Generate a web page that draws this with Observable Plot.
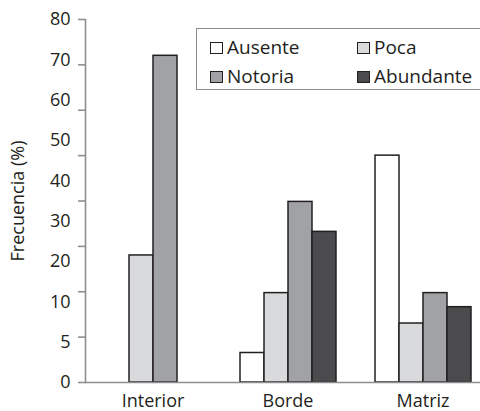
<!DOCTYPE html>
<html>
<head>
<meta charset="utf-8">
<script src="https://cdn.jsdelivr.net/npm/d3@7"></script>
<script src="https://cdn.jsdelivr.net/npm/@observablehq/plot@0.6"></script>
<style>
  html, body { margin: 0; padding: 0; background: #fff; }
  #wrap { position: relative; width: 480px; height: 411px; overflow: hidden; font-family: "Open Sans", sans-serif; color: #231f20; }
  #legend { position: absolute; left: 196px; top: 28px; width: 330px; height: 62px; box-sizing: border-box;
    border: 1.5px solid #8e8e90; background: #fff; }
  .item { position: absolute; display: flex; align-items: center; font-size: 19px; line-height: 1; }
  .sw { width: 11px; height: 10px; border: 1.5px solid #231f20; margin-right: 4px; }
</style>
</head>
<body>
<div id="wrap"><div id="chart"></div><div id="legend"></div></div>
<script>
const categories = ["Interior", "Borde", "Matriz"];
const levels = ["Ausente", "Poca", "Notoria", "Abundante"];
const colors = ["#ffffff", "#d9dadc", "#a1a2a6", "#4b4b4d"];
// frecuencia (%) por nivel, en orden de categories
const ausente   = [0, 6.5, 50];
const poca      = [28, 19.7, 13];
const notoria   = [72, 39.8, 19.7];
const abundante = [0, 33.2, 16.6];
const yTicks = [0, 10, 20, 30, 40, 50, 60, 70, 80];
const yLabels = ["0", "5", "10", "20", "30", "40", "50", "60", "70", "80"];

const series = [ausente, poca, notoria, abundante];
const data = [];
categories.forEach((c, ci) => levels.forEach((l, li) => data.push({category: c, level: l, value: series[li][ci]})));

const yMax = yTicks[yTicks.length - 1];
const labelPos = yLabels.map((_, i) => i * yMax / (yLabels.length - 1));
const labelMap = new Map(labelPos.map((p, i) => [p, yLabels[i]]));

const chart = Plot.plot({
  width: 480,
  height: 411,
  marginTop: 19,
  marginBottom: 29,
  marginLeft: 84,
  marginRight: -10,
  style: {fontFamily: "'Open Sans', sans-serif", fontSize: "18px", color: "#231f20", background: "#fff"},
  fx: {domain: categories, padding: 0, label: null, axis: null},
  x: {domain: levels, paddingInner: 0, paddingOuter: 0.765, axis: null},
  y: {domain: [0, yMax]},
  color: {domain: levels, range: colors},
  marks: [
    Plot.barY(data.filter(d => d.value > 0), {fx: "category", x: "level", y: "value", fill: "level", stroke: "#231f20", strokeWidth: 1.5}),
    Plot.ruleY([0], {stroke: "#8e8e90", strokeWidth: 1.6}),
    Plot.frame({anchor: "left", facet: "super", stroke: "#8e8e90", strokeWidth: 1.6}),
    Plot.axisY(yTicks, {tickSize: 7, tickFormat: () => "", stroke: "#8e8e90", strokeWidth: 1.6, label: null}),
    Plot.axisY(labelPos, {tickSize: 0, tickPadding: 15, tickFormat: d => labelMap.get(d), fill: "#231f20",
      label: "Frecuencia (%)", labelAnchor: "center", labelArrow: "none", labelOffset: 74}),
    Plot.axisFx({anchor: "bottom", tickSize: 0, tickPadding: 12, label: null, fill: "#231f20"})
  ]
});
document.getElementById("chart").appendChild(chart);

const legend = document.getElementById("legend");
const colX = [13, 160];
const rowY = [9, 38];
levels.forEach((l, i) => {
  const it = document.createElement("div");
  it.className = "item";
  it.style.left = colX[i % 2] + "px";
  it.style.top = rowY[Math.floor(i / 2)] + "px";
  const sw = document.createElement("div");
  sw.className = "sw";
  sw.style.background = colors[i];
  const tx = document.createElement("span");
  tx.textContent = l;
  it.appendChild(sw); it.appendChild(tx);
  legend.appendChild(it);
});
</script>
</body>
</html>
